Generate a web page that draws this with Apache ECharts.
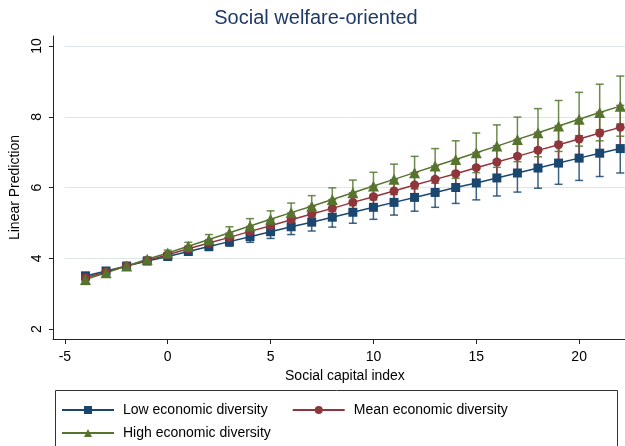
<!DOCTYPE html>
<html>
<head>
<meta charset="utf-8">
<script src="https://cdn.jsdelivr.net/npm/echarts@6/dist/echarts.min.js"></script>
<style>
  html, body { margin: 0; padding: 0; background: #fff; }
  #chart { width: 625px; height: 446px; }
</style>
</head>
<body>
<div id="chart"></div>
<script>
// Social capital index values at which predictions were computed
const socialCapital = [-4, -3, -2, -1, 0, 1, 2, 3, 4, 5, 6, 7, 8, 9, 10, 11, 12, 13, 14, 15, 16, 17, 18, 19, 20, 21, 22];

// Linear predictions by level of economic diversity
const lowDiversity  = [3.50, 3.64, 3.78, 3.92, 4.05, 4.19, 4.33, 4.47, 4.61, 4.75, 4.89, 5.02, 5.16, 5.30, 5.44, 5.58, 5.72, 5.86, 6.00, 6.13, 6.27, 6.41, 6.55, 6.69, 6.83, 6.97, 7.10];
const meanDiversity = [3.45, 3.61, 3.78, 3.94, 4.10, 4.27, 4.43, 4.59, 4.76, 4.92, 5.09, 5.25, 5.41, 5.58, 5.74, 5.90, 6.07, 6.23, 6.39, 6.56, 6.72, 6.88, 7.05, 7.21, 7.37, 7.54, 7.70];
const highDiversity = [3.40, 3.59, 3.78, 3.97, 4.15, 4.34, 4.53, 4.72, 4.91, 5.10, 5.29, 5.47, 5.66, 5.85, 6.04, 6.23, 6.42, 6.61, 6.79, 6.98, 7.17, 7.36, 7.55, 7.74, 7.93, 8.12, 8.30];

// Half-widths of the 95% confidence intervals
const lowHalfCI  = [0.10, 0.07, 0.05, 0.04, 0.06, 0.08, 0.11, 0.13, 0.16, 0.19, 0.22, 0.25, 0.28, 0.31, 0.34, 0.36, 0.39, 0.42, 0.45, 0.48, 0.51, 0.54, 0.57, 0.60, 0.63, 0.66, 0.69];
const meanHalfCI = [0.08, 0.06, 0.04, 0.04, 0.05, 0.07, 0.09, 0.12, 0.14, 0.17, 0.19, 0.22, 0.25, 0.27, 0.30, 0.32, 0.35, 0.38, 0.40, 0.43, 0.46, 0.48, 0.51, 0.54, 0.56, 0.59, 0.62];
const highHalfCI = [0.14, 0.10, 0.07, 0.06, 0.08, 0.11, 0.14, 0.17, 0.21, 0.24, 0.27, 0.30, 0.33, 0.36, 0.39, 0.43, 0.46, 0.49, 0.53, 0.56, 0.60, 0.63, 0.68, 0.72, 0.76, 0.80, 0.85];

const groupNames = ['Low economic diversity', 'Mean economic diversity', 'High economic diversity'];
const yTicks = [2, 4, 6, 8, 10];
const xTicks = [-5, 0, 5, 10, 15, 20];

const COLORS = ['#1a476f', '#90353b', '#55752f'];
const SYMBOLS = ['rect', 'circle', 'triangle'];
const SYMBOL_SIZES = [9, 9, 11];
const FONT = '"Liberation Sans", Arial, Helvetica, sans-serif';

const groups = [
  { name: groupNames[0], values: lowDiversity,  half: lowHalfCI },
  { name: groupNames[1], values: meanDiversity, half: meanHalfCI },
  { name: groupNames[2], values: highDiversity, half: highHalfCI }
];

// Range capped bars for the confidence intervals
function capRenderer(color) {
  return function (params, api) {
    const x = api.value(0);
    const lo = api.coord([x, api.value(1)]);
    const hi = api.coord([x, api.value(2)]);
    const w = 4;
    const style = { stroke: color, lineWidth: 1.5, opacity: 0.85 };
    return {
      type: 'group',
      children: [
        { type: 'line', shape: { x1: lo[0], y1: lo[1], x2: hi[0], y2: hi[1] }, style: style },
        { type: 'line', shape: { x1: hi[0] - w, y1: hi[1], x2: hi[0] + w, y2: hi[1] }, style: style },
        { type: 'line', shape: { x1: lo[0] - w, y1: lo[1], x2: lo[0] + w, y2: lo[1] }, style: style }
      ]
    };
  };
}

const ciSeries = groups.map((g, i) => ({
  type: 'custom',
  xAxisIndex: 0,
  yAxisIndex: 0,
  renderItem: capRenderer(COLORS[i]),
  encode: { x: 0, y: [1, 2] },
  data: socialCapital.map((x, k) => [x, +(g.values[k] - g.half[k]).toFixed(2), +(g.values[k] + g.half[k]).toFixed(2)]),
  z: 1,
  silent: true
}));

const lineSeries = groups.map((g, i) => ({
  type: 'line',
  name: g.name,
  xAxisIndex: 0,
  yAxisIndex: 0,
  data: socialCapital.map((x, k) => [x, g.values[k]]),
  symbol: SYMBOLS[i],
  symbolSize: SYMBOL_SIZES[i],
  showAllSymbol: true,
  color: COLORS[i],
  itemStyle: { color: COLORS[i], opacity: 1 },
  lineStyle: { color: COLORS[i], width: 1.5 },
  z: 3
}));

const chart = echarts.init(document.getElementById('chart'), null, { renderer: 'canvas' });

chart.setOption({
  animation: false,
  backgroundColor: '#ffffff',
  textStyle: { fontFamily: FONT },
  title: {
    text: 'Social welfare-oriented',
    left: 316,
    textAlign: 'center',
    top: 8,
    padding: 0,
    textStyle: { color: '#1e3a66', fontSize: 20, fontWeight: 'normal', fontFamily: FONT }
  },
  grid: [
    // plotting region: x from -5, y from 2 to 10
    { left: 64, right: 0, top: 46, bottom: 117, containLabel: false },
    // frame that carries the offset axis lines
    { left: 53, right: 0, top: 36, bottom: 107, containLabel: false }
  ],
  xAxis: [
    {
      type: 'value', gridIndex: 0,
      min: xTicks[0], max: 22.23, interval: 5,
      offset: 10,
      axisLine: { show: false, onZero: false },
      axisTick: { show: true, length: 5, lineStyle: { color: '#222', width: 1 } },
      axisLabel: { show: true, color: '#000', fontSize: 14, margin: 11, fontFamily: FONT, showMaxLabel: false },
      splitLine: { show: false },
      name: 'Social capital index',
      nameLocation: 'middle',
      nameGap: 29,
      nameTextStyle: { color: '#000', fontSize: 14, fontFamily: FONT }
    },
    {
      type: 'value', gridIndex: 1, min: 0, max: 1,
      axisLine: { show: true, onZero: false, lineStyle: { color: '#222', width: 1 } },
      axisTick: { show: false }, axisLabel: { show: false }, splitLine: { show: false }
    }
  ],
  yAxis: [
    {
      type: 'value', gridIndex: 0,
      min: yTicks[0], max: yTicks[yTicks.length - 1], interval: 2,
      offset: 11,
      axisLine: { show: false, onZero: false },
      axisTick: { show: true, length: 5, lineStyle: { color: '#222', width: 1 } },
      axisLabel: { show: true, color: '#000', fontSize: 14, rotate: 90, margin: 10, fontFamily: FONT },
      splitLine: { show: true, showMinLine: false, lineStyle: { color: '#dde7e9', width: 1 } },
      name: 'Linear Prediction',
      nameLocation: 'middle',
      nameGap: 25,
      nameTextStyle: { color: '#000', fontSize: 14, fontFamily: FONT }
    },
    {
      type: 'value', gridIndex: 1, min: 0, max: 1,
      axisLine: { show: true, onZero: false, lineStyle: { color: '#222', width: 1 } },
      axisTick: { show: false }, axisLabel: { show: false }, splitLine: { show: false }
    }
  ],
  legend: [
    {
      data: [groupNames[0], groupNames[1]],
      left: 61, top: 403, padding: 0,
      orient: 'horizontal',
      itemWidth: 52, itemHeight: 10, itemGap: 24,
      textStyle: { color: '#000', fontSize: 14, fontFamily: FONT, padding: [0, 0, 0, 4] }
    },
    {
      data: [groupNames[2]],
      left: 61, top: 426, padding: 0,
      itemWidth: 52, itemHeight: 10,
      textStyle: { color: '#000', fontSize: 14, fontFamily: FONT, padding: [0, 0, 0, 4] }
    }
  ],
  graphic: [
    {
      type: 'rect',
      shape: { x: 55.5, y: 390.5, width: 562, height: 70 },
      style: { fill: 'none', stroke: '#333', lineWidth: 1 },
      silent: true
    }
  ],
  series: ciSeries.concat(lineSeries)
});
</script>
</body>
</html>
